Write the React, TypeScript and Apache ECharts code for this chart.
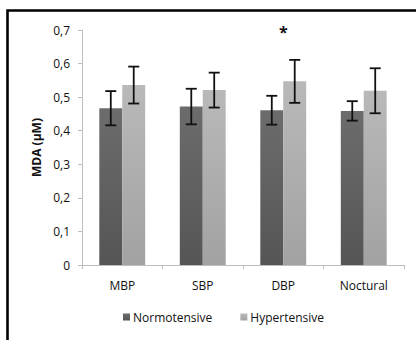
import React, { useEffect, useRef } from "react";
import * as echarts from "echarts";

const categories = ["MBP", "SBP", "DBP", "Noctural"];
const normotensive = [0.467, 0.472, 0.461, 0.459];
const normotensiveErr = [0.051, 0.053, 0.043, 0.029];
const hypertensive = [0.536, 0.521, 0.547, 0.519];
const hypertensiveErr = [0.055, 0.052, 0.064, 0.067];
const significance = ["", "", "*", ""];
const yTicks = [0, 0.1, 0.2, 0.3, 0.4, 0.5, 0.6, 0.7];

const FONT = "Open Sans";
const BAR_RATIO = 0.285;

export default function App() {
  const ref = useRef<HTMLDivElement>(null);
  useEffect(() => {
    if (!ref.current) return;
    const chart = echarts.init(ref.current, undefined, { renderer: "svg" });

    const errData = (vals: number[], errs: number[]) =>
      vals.map((v, i) => [i, v, errs[i]]);

    const errRender = (side: number) => (params: any, api: any) => {
      const idx = api.value(0);
      const v = api.value(1);
      const e = api.value(2);
      const band = api.size([1, 0])[0];
      const bw = band * BAR_RATIO;
      const center = api.coord([idx, v]);
      const x = center[0] + (side * bw) / 2;
      const top = api.coord([idx, v + e])[1];
      const bot = api.coord([idx, v - e])[1];
      const cap = 5.5;
      const style = { stroke: "#111", lineWidth: 1.8 };
      return {
        type: "group",
        children: [
          { type: "line", shape: { x1: x, y1: top, x2: x, y2: bot }, style },
          { type: "line", shape: { x1: x - cap, y1: top, x2: x + cap, y2: top }, style },
          { type: "line", shape: { x1: x - cap, y1: bot, x2: x + cap, y2: bot }, style },
        ],
      };
    };

    chart.setOption({
      animation: false,
      backgroundColor: "#ffffff",
      textStyle: { fontFamily: FONT },
      graphic: [
        {
          type: "rect",
          shape: { x: 7.5, y: 10.5, width: 430, height: 360 },
          style: { fill: "none", stroke: "#000", lineWidth: 2.6 },
          silent: true,
          z: 100,
        },
      ],
      grid: { left: 82, right: 12, top: 30, bottom: 75 },
      legend: {
        bottom: 12,
        left: 118,
        itemWidth: 7,
        itemHeight: 7,
        itemGap: 28,
        icon: "rect",
        textStyle: { fontFamily: FONT, fontSize: 12, color: "#111", padding: [0, 0, 0, -2] },
        data: ["Normotensive", "Hypertensive"],
      },
      xAxis: {
        type: "category",
        data: categories,
        axisLine: { lineStyle: { color: "#bdbdbd", width: 1 } },
        axisTick: { show: true, length: 4, lineStyle: { color: "#bdbdbd" } },
        axisLabel: { fontFamily: FONT, fontSize: 12, color: "#111", margin: 14 },
      },
      yAxis: {
        type: "value",
        min: 0,
        max: 0.7,
        interval: 0.1,
        name: "MDA (μM)",
        nameLocation: "middle",
        nameGap: 40,
        nameTextStyle: { fontFamily: FONT, fontSize: 12, fontWeight: "bold", color: "#111" },
        axisLine: { show: true, lineStyle: { color: "#bdbdbd", width: 1 } },
        axisTick: { show: true, length: 4, lineStyle: { color: "#bdbdbd" } },
        splitLine: { show: false },
        axisLabel: {
          fontFamily: FONT,
          fontSize: 12,
          color: "#111",
          margin: 12,
          formatter: (v: number) => {
            const t = yTicks.find((x) => Math.abs(x - v) < 1e-9);
            const val = t === undefined ? v : t;
            return val === 0 ? "0" : val.toFixed(1).replace(".", ",");
          },
        },
      },
      series: [
        {
          name: "Normotensive",
          type: "bar",
          data: normotensive,
          barWidth: BAR_RATIO * 100 + "%",
          barGap: "0%",
          itemStyle: {
            color: new echarts.graphic.LinearGradient(0, 0, 0, 1, [
              { offset: 0, color: "#6c6c6c" },
              { offset: 1, color: "#555555" },
            ]),
          },
        },
        {
          name: "Hypertensive",
          type: "bar",
          data: hypertensive,
          barWidth: BAR_RATIO * 100 + "%",
          barGap: "0%",
          itemStyle: {
            color: new echarts.graphic.LinearGradient(0, 0, 0, 1, [
              { offset: 0, color: "#b9b9b9" },
              { offset: 1, color: "#a2a2a2" },
            ]),
          },
        },
        {
          type: "custom",
          data: errData(normotensive, normotensiveErr),
          renderItem: errRender(-1),
          z: 10,
          silent: true,
        },
        {
          type: "custom",
          data: errData(hypertensive, hypertensiveErr),
          renderItem: errRender(1),
          z: 10,
          silent: true,
        },
        {
          type: "custom",
          data: significance.map((s, i) => [i, 0.7, s]),
          renderItem: (params: any, api: any) => {
            const idx = api.value(0);
            const label = significance[idx];
            if (!label) return null;
            const p = api.coord([idx, api.value(1)]);
            return {
              type: "text",
              x: p[0],
              y: p[1] + 2,
              style: {
                text: label,
                fontFamily: FONT,
                fontSize: 16,
                fontWeight: "bold",
                fill: "#111",
                align: "center",
                verticalAlign: "middle",
              },
            };
          },
          z: 10,
          silent: true,
        },
      ],
    });
    return () => chart.dispose();
  }, []);
  return (
    <div
      ref={ref}
      style={{ position: "absolute", left: 0, top: 0, width: 416, height: 340 }}
    />
  );
}
